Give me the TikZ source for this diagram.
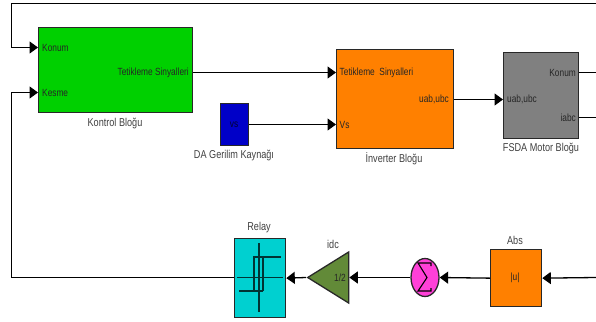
\documentclass[tikz,border=0pt]{standalone}
\usepackage{fontspec}
\setmainfont[FakeStretch=0.8]{Liberation Sans}
\usetikzlibrary{arrows.meta,shapes.geometric}
\definecolor{kontrolgreen}{RGB}{0,208,0}
\definecolor{invorange}{RGB}{255,128,0}
\definecolor{vsblue}{RGB}{0,0,200}
\definecolor{motorgray}{RGB}{128,128,128}
\definecolor{relaycyan}{RGB}{0,208,208}
\definecolor{gainolive}{RGB}{98,138,56}
\definecolor{summagenta}{RGB}{255,64,216}
\definecolor{edgegray}{RGB}{40,40,40}
\tikzset{
  blok/.style={draw=edgegray,line width=1.3pt,inner sep=0pt,anchor=north west},
  port/.style={inner sep=0pt,text=black!85,font=\fontsize{10.4}{11}\selectfont},
  etiket/.style={inner sep=0pt,text=black!75,font=\fontsize{11.4}{12}\selectfont},
  hat/.style={draw=black,line width=1.3pt},
  ok/.style={hat,-{Triangle[length=8.5pt,width=12pt]}},
  ikon/.style={draw=black!75!relaycyan,line width=1.1pt}
}
\begin{document}
\begin{tikzpicture}[x=1pt,y=-1pt]
\useasboundingbox (0,0) rectangle (596,321);
\def\xGeri{11.5};
\def\xSag{596};
% bloklar
\node[blok,fill=kontrolgreen,minimum width=154pt,minimum height=85pt] (kontrol) at (38,27) {};
\node[blok,fill=vsblue,minimum width=28pt,minimum height=42pt] (kaynak) at (220,103) {};
\node[blok,fill=invorange,minimum width=117pt,minimum height=99pt] (inverter) at (336,49) {};
\node[blok,fill=motorgray,minimum width=75pt,minimum height=86pt] (motor) at (503,52) {};
\node[blok,fill=relaycyan,minimum width=51pt,minimum height=79pt] (relay) at (234,238) {};
\node[draw=edgegray,line width=1.3pt,fill=gainolive,isosceles triangle,isosceles triangle stretches,shape border rotate=180,minimum width=51pt,minimum height=41pt,inner sep=0pt] (gain) at (334.5,277.5) {};
\node[draw=edgegray,line width=1.3pt,fill=summagenta,ellipse,minimum width=28pt,minimum height=38pt,inner sep=0pt] (toplam) at (425,277.5) {};
\node[blok,fill=invorange,minimum width=51pt,minimum height=57pt] (abs) at (490,249) {};
% blok yazilari
\node[port,anchor=west] (konumG) at (42,47.5) {Konum};
\node[port,anchor=west] (kesmeG) at (42,92.5) {Kesme};
\node[port,anchor=east] (tetikC) at (189,72.5) {Tetikleme Sinyalleri};
\node[port,text=black!75!vsblue] (vs) at (234,125) {vs};
\node[port,anchor=west] (tetikG) at (339.5,72.5) {Tetikleme \ Sinyalleri};
\node[port,anchor=west] (vsG) at (339.5,124.5) {Vs};
\node[port,anchor=east] (uabC) at (449,99.5) {uab,ubc};
\node[port,anchor=west] (uabG) at (507,99.5) {uab,ubc};
\node[port,anchor=east] (konumC) at (576,72.5) {Konum};
\node[port,anchor=east] (iabcC) at (576,117.5) {iabc};
\node[port] (bir) at (340,278) {1/2};
\node[port] (mutlak) at (515,278) {|u|};
% etiketler
\node[etiket] (lkontrol) at (115,123) {Kontrol Bloğu};
\node[etiket] (lkaynak) at (234,155) {DA Gerilim Kaynağı};
\node[etiket] (linverter) at (394,159) {İnverter Bloğu};
\node[etiket] (lmotor) at (541,148) {FSDA Motor Bloğu};
\node[etiket] (lrelay) at (259,228) {Relay};
\node[etiket] (lidc) at (333,244) {idc};
\node[etiket] (labs) at (515,240) {Abs};
% baglantilar
\coordinate (ustsag) at (\xSag,3.5);
\coordinate (altsag) at (\xSag,277.5);
\coordinate (konumsag) at (\xSag,72.5);
\coordinate (iabcsag) at (\xSag,117.5);
\coordinate (ustsol) at (\xGeri,3.5);
\coordinate (konumsol) at (\xGeri,47.5);
\coordinate (kesmesol) at (\xGeri,92.5);
\coordinate (altsol) at (\xGeri,277.5);
\draw[ok] (ustsag)--(ustsol)--(konumsol)--(konumsol-|kontrol.west);
\draw[ok] (relay.west|-altsol)--(altsol)--(kesmesol)--(kesmesol-|kontrol.west);
\draw[ok] (kontrol.east|-tetikG)--(inverter.west|-tetikG);
\draw[ok] (kaynak.east|-vsG)--(inverter.west|-vsG);
\draw[ok] (inverter.east|-uabC)--(motor.west|-uabC);
\draw[hat] (motor.east|-konumsag)--(konumsag);
\draw[hat] (motor.east|-iabcsag)--(iabcsag);
\draw[ok] (altsag)--(abs.east);
\draw[ok] (abs.west)--(toplam.east);
\draw[ok] (toplam.west)--(gain.lower side);
\draw[ok] (gain.apex)--(relay.east);
% relay ikonu
\draw[ikon] (259,243)--(259,312);
\draw[ikon] (237,277.5)--(283,277.5);
\draw[ikon] (281,257)--(254,257)--(254,291)--(239,291);
\draw[ikon] (263,291)--(254,291);
\draw[ikon] (263,291)--(263,257)--(254,257);
% toplam ikonu
\draw[black,line width=1.1pt] (431,266)--(431,263)--(418,263)--(427,277.5)--(418,291)--(431,291)--(431,288);
\end{tikzpicture}
\end{document}
